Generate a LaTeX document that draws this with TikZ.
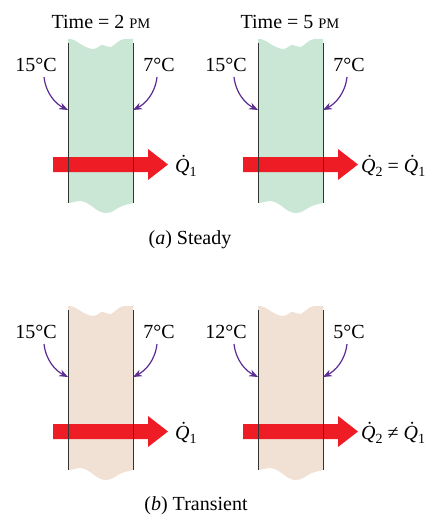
\documentclass[tikz,border=0pt]{standalone}
\usepackage{fontspec}
\setmainfont{Liberation Serif}
\usetikzlibrary{arrows.meta}
\definecolor{wallgreen}{HTML}{CAE6D5}
\definecolor{walltan}{HTML}{F1E0D4}
\definecolor{heatred}{HTML}{EE1C25}
\definecolor{tempurple}{HTML}{5B2C91}
\definecolor{wallline}{HTML}{333333}
\newcommand\Qdot[1]{{\itshape Q^^^^0307}\raisebox{-4.5pt}{\fontsize{14}{14}\selectfont #1}}
\newcommand\smallpm{{\fontsize{14.5}{14.5}\selectfont PM}}
\begin{document}
\begin{tikzpicture}[x=1pt,y=-1pt,
  lbl/.style={inner sep=0pt,font=\fontsize{20}{20}\selectfont},
  wallside/.style={draw=wallline,line width=0.9pt},
  tempcurve/.style={draw=tempurple,line width=1.2pt,-{Stealth[length=9pt,width=7pt]}},
  heatarrow/.style={fill=heatred,draw=none}]
\useasboundingbox (0,0) rectangle (436,516);

\newcommand\wallpanel[4]{% #1 fill colour, #2 left temp, #3 right temp, #4 prefix
  \fill[#1] (68,39) .. controls (76,38) and (82,48) .. (93,49)
     .. controls (98,49) and (100,44) .. (103,45)
     .. controls (106,45) and (108,48) .. (111,47)
     .. controls (115,45) and (118,40) .. (124,39)
     -- (133,39) -- (133,203)
     .. controls (128,204) and (125,205) .. (122,206)
     .. controls (115,209) and (113,213) .. (106,213)
     .. controls (96,213) and (92,203) .. (81,201)
     .. controls (76,201) and (72,203) .. (68,203) -- cycle;
  \fill[heatred] (53,157) -- (148,157) -- (148,149) -- (168,164.5)
     -- (148,180) -- (148,172) -- (53,172) -- cycle;
  \coordinate (#4wl1) at (68,43); \coordinate (#4wl2) at (68,203);
  \coordinate (#4wr1) at (133,43); \coordinate (#4wr2) at (133,203);
  \draw[wallside] (#4wl1) -- (#4wl2);
  \draw[wallside] (#4wr1) -- (#4wr2);
  \node[lbl] (#4tl) at (36,65) {#2};
  \node[lbl] (#4tr) at (159,65) {#3};
  \coordinate (#4al) at (68,110);
  \coordinate (#4ar) at (133,110);
  \draw[tempcurve] (44,77) .. controls (46,94) and (56,104) .. (#4al);
  \draw[tempcurve] (157,77) .. controls (155,94) and (145,104) .. (#4ar);
}

\begin{scope}
  \wallpanel{wallgreen}{15°C}{7°C}{p1}
  \node[lbl,anchor=west] (q1) at (175,166) {\Qdot{1}};
  \node[lbl] (t1) at (101,22) {Time = 2 \smallpm};
\end{scope}
\begin{scope}[xshift=190pt]
  \wallpanel{wallgreen}{15°C}{7°C}{p2}
  \node[lbl,anchor=west] (q2) at (171,166) {\Qdot{2} = \Qdot{1}};
  \node[lbl] (t2) at (100,22) {Time = 5 \smallpm};
\end{scope}
\begin{scope}[yshift=-267pt]
  \wallpanel{walltan}{15°C}{7°C}{p3}
  \node[lbl,anchor=west] (q3) at (175,166) {\Qdot{1}};
\end{scope}
\begin{scope}[xshift=190pt,yshift=-267pt]
  \wallpanel{walltan}{12°C}{5°C}{p4}
  \node[lbl,anchor=west] (q4) at (171,166) {\Qdot{2} ≠ \Qdot{1}};
\end{scope}

\node[lbl] (capa) at (190,240) {(\textit{a}) Steady};
\node[lbl] (capb) at (196,506) {(\textit{b}) Transient};
\end{tikzpicture}
\end{document}
